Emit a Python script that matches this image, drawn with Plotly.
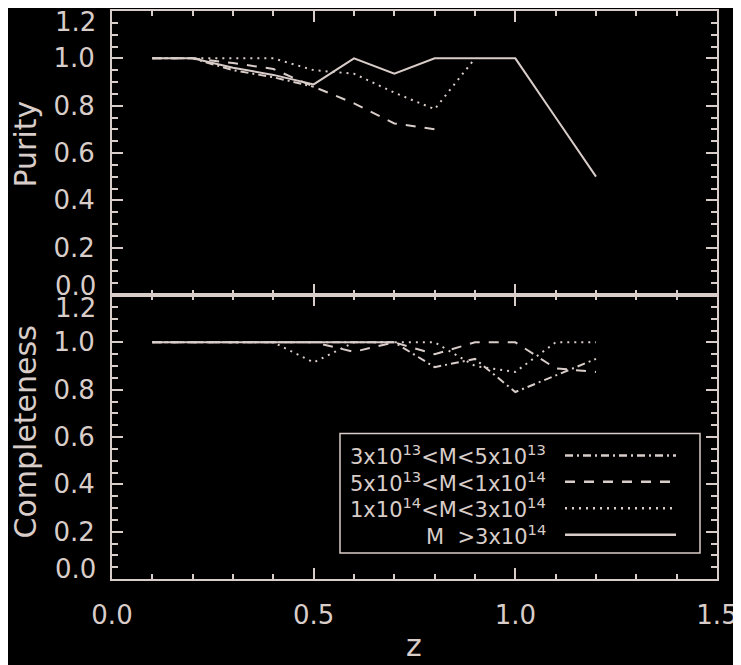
import plotly.graph_objects as go

# redshift bins
z = [0.1, 0.2, 0.3, 0.4, 0.5, 0.6, 0.7, 0.8, 0.9, 1.0, 1.1, 1.2]

# purity per mass bin
pur_m1 = [1.0, 1.0, 0.95, 0.92, 0.88]
pur_m2 = [1.0, 1.0, 0.98, 0.955, 0.88, 0.81, 0.725, 0.70]
pur_m3 = [1.0, 1.0, 1.0, 1.0, 0.95, 0.935, 0.855, 0.785, 1.0]
pur_m4 = [1.0, 1.0, 0.96, 0.93, 0.89, 1.0, 0.935, 1.0, 1.0, 1.0, 0.75, 0.5]

# completeness per mass bin
comp_m1 = [1.0, 1.0, 1.0, 1.0, 1.0, 1.0, 1.0, 0.895, 0.93, 0.79, 0.86, 0.93]
comp_m2 = [1.0, 1.0, 1.0, 1.0, 1.0, 0.96, 1.0, 0.95, 1.0, 1.0, 0.89, 0.875]
comp_m3 = [1.0, 1.0, 1.0, 1.0, 0.915, 1.0, 1.0, 1.0, 0.90, 0.875, 1.0, 1.0]
comp_m4 = [1.0, 1.0, 1.0, 1.0, 1.0, 1.0, 1.0]

bin_labels = ["3x10<sup>13</sup>&lt;M&lt;5x10<sup>13</sup>",
              "5x10<sup>13</sup>&lt;M&lt;1x10<sup>14</sup>",
              "1x10<sup>14</sup>&lt;M&lt;3x10<sup>14</sup>",
              "M  &gt;3x10<sup>14</sup>"]

y_ticks = [0.0, 0.2, 0.4, 0.6, 0.8, 1.0, 1.2]
y_labels = ["0.0", "0.2", "0.4", "0.6", "0.8", "1.0", "1.2"]
x_ticks = [0.0, 0.5, 1.0, 1.5]
x_labels = ["0.0", "0.5", "1.0", "1.5"]

FG = "#d9cdc9"
BG = "#000000"
FONT = "DejaVu Sans"
OFF = 8  # page body margin
W, H = 741 - OFF, 665 - OFF
L, R, T, B = 104, 24, 1, 86
dashes = ["8px,4px,2px,4px", "10px,9px", "2px,5px", "solid"]


def px(xp, yp):
    # page pixel -> paper coords
    xf, yf = xp - OFF, yp - OFF
    return (xf - L) / (W - L - R), (H - B - yf) / (H - T - B)


fig = go.Figure()
for ys, d in zip([pur_m1, pur_m2, pur_m3, pur_m4], dashes):
    fig.add_trace(go.Scatter(x=z[:len(ys)], y=ys, mode="lines", xaxis="x2", yaxis="y2",
                             line=dict(color=FG, width=2, dash=d), showlegend=False))
for ys, d in zip([comp_m1, comp_m2, comp_m3, comp_m4], dashes):
    fig.add_trace(go.Scatter(x=z[:len(ys)], y=ys, mode="lines", xaxis="x", yaxis="y",
                             line=dict(color=FG, width=2, dash=d), showlegend=False))

tfont = dict(family=FONT, size=26, color=FG)
base = dict(showline=True, linecolor=FG, linewidth=2, mirror="allticks", ticks="inside",
            ticklen=11, tickwidth=2, tickcolor=FG, showgrid=False, zeroline=False,
            tickfont=tfont, tickmode="array")
xax = dict(base, range=[0, 1.5], tickvals=x_ticks, ticktext=x_labels,
           minor=dict(ticks="inside", ticklen=5, tickwidth=2, tickcolor=FG,
                      tickmode="linear", tick0=0, dtick=0.1, showgrid=False))
yax = dict(base, range=[0, 1.2], tickvals=y_ticks[1:-1], ticktext=y_labels[1:-1],
           ticklabelstandoff=10,
           minor=dict(ticks="inside", ticklen=6, tickwidth=2, tickcolor=FG,
                      tickmode="linear", tick0=0, dtick=0.05, showgrid=False))

fig.update_layout(
    width=W, height=H, paper_bgcolor=BG, plot_bgcolor=BG,
    margin=dict(l=L, r=R, t=T, b=B),
    font=dict(family=FONT, color=FG),
    xaxis=dict(xax, domain=[0, 1], anchor="y", ticklabelstandoff=12),
    yaxis=dict(yax, domain=[0, 0.5], anchor="x"),
    xaxis2=dict(xax, domain=[0, 1], anchor="y2", showticklabels=False),
    yaxis2=dict(yax, domain=[0.5, 1], anchor="x2"),
)

# edge tick labels, nudged inwards as in the original
lx, _ = px(98, 0)
for yref, val, lab, shift in [("y2", y_ticks[-1], y_labels[-1], -11), ("y2", y_ticks[0], y_labels[0], 9),
                              ("y", y_ticks[-1], y_labels[-1], -13), ("y", y_ticks[0], y_labels[0], 10)]:
    fig.add_annotation(x=lx, y=val, xref="paper", yref=yref, text=lab, showarrow=False,
                       xanchor="right", yanchor="middle", yshift=shift, font=tfont)

# axis titles
title_font = dict(family=FONT, size=30, color=FG)
for text, (xp, yp) in [("Purity", (26, 143)), ("Completeness", (26, 432))]:
    ax_, ay_ = px(xp, yp)
    fig.add_annotation(x=ax_, y=ay_, xref="paper", yref="paper", text=text, showarrow=False,
                       textangle=-90, xanchor="center", yanchor="middle", font=title_font)
zx, zy = px(414, 665)
fig.add_annotation(x=zx, y=zy, xref="paper", yref="paper", text="z", showarrow=False,
                   xanchor="center", yanchor="bottom", font=title_font)

# legend box
x0, y0 = px(340, 433)
x1, y1 = px(700, 553)
fig.add_shape(type="rect", xref="paper", yref="paper", x0=x0, y0=y0, x1=x1, y1=y1,
              line=dict(color=FG, width=1.5), fillcolor=BG)
leg_font = dict(family=FONT, size=21, color=FG)
for i, (lab, d) in enumerate(zip(bin_labels, dashes)):
    yrow = 455 + i * 26.5
    tx, ty = px(548, yrow)
    fig.add_annotation(x=tx, y=ty, xref="paper", yref="paper", text=lab, showarrow=False,
                       xanchor="right", yanchor="middle", font=leg_font)
    sx0, sy = px(565, yrow)
    sx1, _ = px(676, yrow)
    fig.add_shape(type="line", xref="paper", yref="paper", x0=sx0, x1=sx1, y0=sy, y1=sy,
                  line=dict(color=FG, width=2.5, dash=d))

fig.write_html("out.html")
